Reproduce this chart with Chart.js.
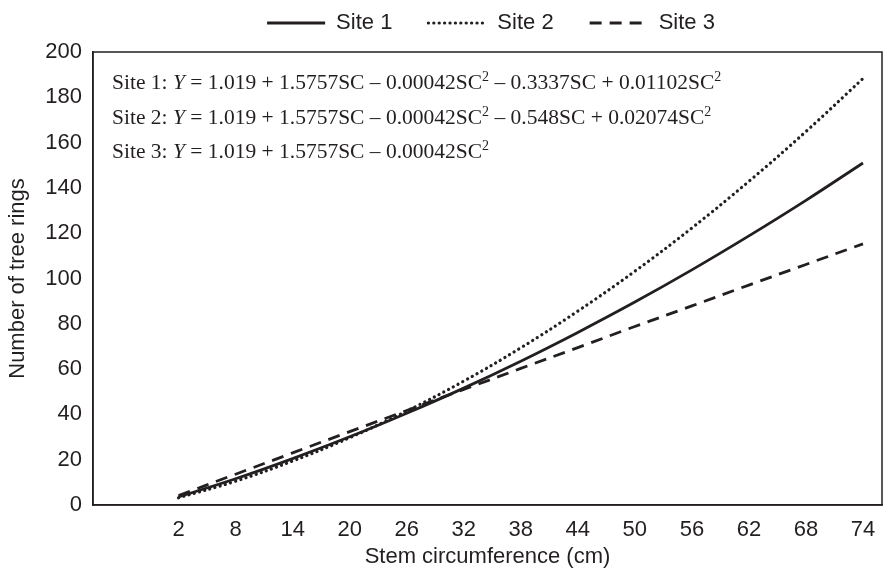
<!DOCTYPE html>
<html>
<head>
<meta charset="utf-8">
<script src="https://cdn.jsdelivr.net/npm/chart.js@4/dist/chart.umd.min.js"></script>
<style>
  html, body { margin: 0; padding: 0; background: #fff; }
  #wrap { width: 883px; height: 575px; }
</style>
</head>
<body>
<div id="wrap"><canvas id="grafico"></canvas></div>
<script>
// valores
const circunferencia = [2, 8, 14, 20, 26, 32, 38, 44, 50, 56, 62, 68, 74];
const site1 = [3.6, 11.6, 20.5, 30.1, 40.5, 51.6, 63.5, 76.2, 89.6, 103.8, 118.8, 134.5, 151.0];
const site2 = [3.2, 10.5, 19.4, 29.7, 41.5, 54.7, 69.4, 85.6, 103.2, 122.3, 142.9, 164.9, 188.3];
const site3 = [4.2, 13.6, 23.0, 32.4, 41.7, 51.0, 60.3, 69.5, 78.8, 87.9, 97.1, 106.2, 115.3];
const yTicks = [0, 20, 40, 60, 80, 100, 120, 140, 160, 180, 200];

// equações (texto, estilo): n = normal, i = itálico, s = sobrescrito
const eq1 = [['Site 1: ', 'n'], ['Y', 'i'], [' = 1.019 + 1.5757SC \u2013 0.00042SC', 'n'], ['2', 's'], [' \u2013 0.3337SC + 0.01102SC', 'n'], ['2', 's']];
const eq2 = [['Site 2: ', 'n'], ['Y', 'i'], [' = 1.019 + 1.5757SC \u2013 0.00042SC', 'n'], ['2', 's'], [' \u2013 0.548SC + 0.02074SC', 'n'], ['2', 's']];
const eq3 = [['Site 3: ', 'n'], ['Y', 'i'], [' = 1.019 + 1.5757SC \u2013 0.00042SC', 'n'], ['2', 's']];

const pontos = serie => circunferencia.map((x, i) => ({ x: x, y: serie[i] }));

const fonteSans = 'Liberation Sans, Arial, sans-serif';
const fonteSerif = '"Liberation Serif", "Times New Roman", serif';
const corTexto = '#231f20';

// legenda: altura fixa e deslocada para cima / centrada sobre a área do gráfico
const ajusteLegenda = {
    id: 'ajusteLegenda',
    beforeLayout(chart) {
        const lg = chart.legend;
        if (lg && !lg._ajustado) {
            const fitOrig = lg.fit.bind(lg);
            lg.fit = function () { fitOrig(); this.height = 52; };
            lg._ajustado = true;
        }
    },
    afterLayout(chart) {
        const lg = chart.legend;
        lg.top -= 24;
        lg.left += 50; lg.right += 50;
    }
};

// moldura + equações
const extras = {
    id: 'extras',
    afterDraw(chart) {
        const c = chart.ctx;
        const a = chart.chartArea;
        c.save();
        c.strokeStyle = '#231f20';
        c.lineWidth = 1.5;
        c.strokeRect(a.left, a.top, a.right - a.left, a.bottom - a.top);

        c.fillStyle = corTexto;
        c.textBaseline = 'alphabetic';
        const linhas = [eq1, eq2, eq3];
        const base = [89, 124, 158];
        linhas.forEach((linha, k) => {
            let x = 112;
            linha.forEach(([txt, st]) => {
                let y = base[k];
                if (st === 'i') c.font = 'italic 21.5px ' + fonteSerif;
                else if (st === 's') { c.font = '14px ' + fonteSerif; y -= 8; }
                else c.font = '21.5px ' + fonteSerif;
                c.fillText(txt, x, y);
                x += c.measureText(txt).width;
            });
        });
        c.restore();
    }
};

new Chart(document.getElementById('grafico').getContext('2d'), {
    type: 'line',
    data: {
        datasets: [{
            label: 'Site 1',
            data: pontos(site1),
            borderColor: corTexto,
            borderWidth: 2.8,
            pointRadius: 0,
            tension: 0.4,
            fill: false
        }, {
            label: 'Site 2',
            data: pontos(site2),
            borderColor: corTexto,
            borderWidth: 3.2,
            borderDash: [0.1, 5.3],
            borderCapStyle: 'round',
            pointRadius: 0,
            tension: 0.4,
            fill: false
        }, {
            label: 'Site 3',
            data: pontos(site3),
            borderColor: corTexto,
            borderWidth: 2.8,
            borderDash: [12, 8],
            pointRadius: 0,
            tension: 0.4,
            fill: false
        }]
    },
    options: {
        responsive: true,
        maintainAspectRatio: false,
        animation: false,
        layout: { padding: { left: 0, right: 1, top: 0, bottom: 0 } },
        plugins: {
            legend: {
                position: 'top',
                labels: {
                    usePointStyle: true,
                    pointStyle: 'line',
                    pointStyleWidth: 58,
                    boxHeight: 10,
                    padding: 36,
                    color: corTexto,
                    font: { family: fonteSans, size: 22 },
                    // traço da legenda igual ao da série
                    generateLabels: chart => {
                        const itens = Chart.defaults.plugins.legend.labels.generateLabels(chart);
                        itens.forEach((it, i) => {
                            const ds = chart.data.datasets[i];
                            it.lineDash = ds.borderDash || [];
                            it.lineCap = ds.borderCapStyle || 'butt';
                            it.lineWidth = ds.borderWidth;
                            it.strokeStyle = ds.borderColor;
                        });
                        return itens;
                    }
                }
            },
            tooltip: { enabled: false }
        },
        scales: {
            x: {
                type: 'linear',
                min: -7,
                max: 76,
                afterFit: s => { s.height = 70; s.paddingLeft = 0; s.paddingRight = 0; },
                afterBuildTicks: s => { s.ticks = circunferencia.map(v => ({ value: v })); },
                grid: { display: false, drawTicks: false },
                border: { display: true, color: '#231f20', width: 1.5 },
                ticks: { color: corTexto, padding: 12, maxRotation: 0, autoSkip: false, font: { family: fonteSans, size: 22 } },
                title: { display: true, text: 'Stem circumference (cm)', color: corTexto, padding: { top: 4, bottom: 5 }, font: { family: fonteSans, size: 22 } }
            },
            y: {
                min: 0,
                max: 200,
                afterFit: s => { s.width = 93; s.paddingTop = 0; s.paddingBottom = 0; },
                afterBuildTicks: s => { s.ticks = yTicks.map(v => ({ value: v })); },
                grid: { display: false, drawTicks: false },
                border: { display: true, color: '#231f20', width: 1.5 },
                ticks: { color: corTexto, padding: 11, font: { family: fonteSans, size: 22 } },
                title: { display: true, text: 'Number of tree rings', color: corTexto, padding: { top: 5, bottom: 4 }, font: { family: fonteSans, size: 22 } }
            }
        }
    },
    plugins: [ajusteLegenda, extras]
});
</script>
</body>
</html>
